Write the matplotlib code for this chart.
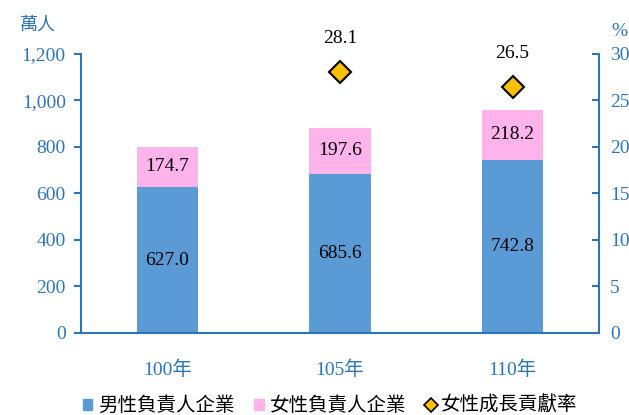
import matplotlib
matplotlib.use('Agg')
import matplotlib.pyplot as plt
from matplotlib.lines import Line2D
from matplotlib.patches import Patch

years = ['100年', '105年', '110年']
male = [627.0, 685.6, 742.8]
female = [174.7, 197.6, 218.2]
rate_years = [1, 2]
rate = [28.1, 26.5]

blue = '#5B9BD5'
pink = '#FFB3EB'
axis_col = '#2E75B6'
serif = ['Liberation Serif', 'DejaVu Serif']
cjk = ['Noto Sans CJK TC', 'DejaVu Sans']
mixed = ['Liberation Serif', 'Noto Sans CJK TC']

fig = plt.figure(figsize=(6.29, 4.15), dpi=100)
ax = fig.add_axes([0.1288, 0.1976, 0.8232, 0.6723])
x = list(range(len(years)))
ax.bar(x, male, width=0.355, color=blue, zorder=2)
ax.bar(x, female, width=0.355, bottom=male, color=pink, zorder=2)
for i in x:
    ax.text(i, male[i] / 2, f'{male[i]:.1f}', ha='center', va='center',
            fontsize=14, family=serif)
    ax.text(i, male[i] + female[i] / 2, f'{female[i]:.1f}', ha='center',
            va='center', fontsize=14, family=serif)

ax.set_xlim(-0.5, 2.5)
ax.set_ylim(0, 1200)
ax.set_yticks(range(0, 1201, 200))
ax.set_yticklabels([f'{v:,}' for v in range(0, 1201, 200)], family=serif,
                   fontsize=14, color=axis_col)
ax.set_xticks(x)
ax.set_xticklabels(years, family=mixed, fontsize=14, color=axis_col)
ax.tick_params(axis='x', length=0, pad=20)
ax.tick_params(axis='y', color=axis_col, width=1.5, length=5, pad=6)
for s in ['top', 'right']:
    ax.spines[s].set_visible(False)
for s in ['left', 'bottom']:
    ax.spines[s].set_color(axis_col)
    ax.spines[s].set_linewidth(1.5)

ax2 = ax.twinx()
ax2.set_ylim(0, 30)
ax2.plot(rate_years, rate, linestyle='none', marker='D', markersize=11.5,
         markerfacecolor='#FFC000', markeredgecolor='black',
         markeredgewidth=1.5, zorder=3)
for xi, v in zip(rate_years, rate):
    ax2.text(xi, v + 2.6, f'{v}', ha='center', va='bottom', fontsize=14,
             family=serif)
ax2.set_yticks(range(0, 31, 5))
ax2.set_yticklabels([str(v) for v in range(0, 31, 5)], family=serif,
                    fontsize=14, color=axis_col)
ax2.tick_params(axis='y', direction='in', color=axis_col, width=1.5,
                length=5, pad=8)
for s in ['top', 'left', 'bottom']:
    ax2.spines[s].set_visible(False)
ax2.spines['right'].set_color(axis_col)
ax2.spines['right'].set_linewidth(1.5)

fig.text(0.06, 0.94, '萬人', family=cjk, fontsize=13, color=axis_col,
         ha='center', va='center')
fig.text(0.985, 0.925, '%', family=serif, fontsize=14, color=axis_col,
         ha='center', va='center')

handles = [Patch(color=blue), Patch(color=pink),
           Line2D([], [], linestyle='none', marker='D', markersize=7,
                  markerfacecolor='#FFC000', markeredgecolor='black',
                  markeredgewidth=1.2)]
labels = ['男性負責人企業', '女性負責人企業', '女性成長貢獻率']
fig.legend(handles, labels, loc='center', bbox_to_anchor=(0.525, 0.023),
           ncol=3, frameon=False, prop={'family': cjk, 'size': 14},
           handlelength=0.5, handleheight=0.5, handletextpad=0.3,
           columnspacing=1.0, borderpad=0)

fig.savefig('out.png', dpi=100)
